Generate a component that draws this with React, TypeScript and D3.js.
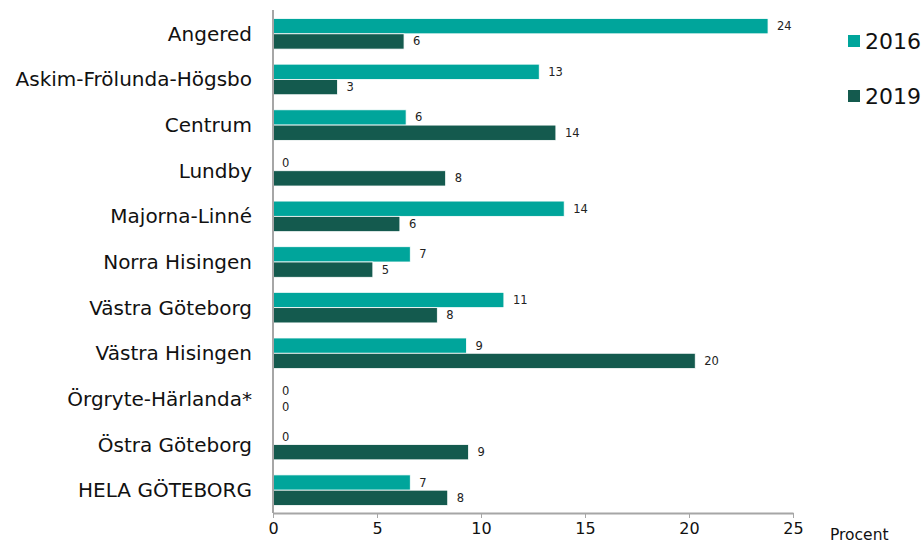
import { useEffect, useRef } from "react"
import * as d3 from "d3"

const categories = [
  "Angered",
  "Askim-Frölunda-Högsbo",
  "Centrum",
  "Lundby",
  "Majorna-Linné",
  "Norra Hisingen",
  "Västra Göteborg",
  "Västra Hisingen",
  "Örgryte-Härlanda*",
  "Östra Göteborg",
  "HELA GÖTEBORG",
]
const values2016 = [23.8, 12.8, 6.4, 0, 14.0, 6.6, 11.1, 9.3, 0, 0, 6.6]
const values2019 = [6.3, 3.1, 13.6, 8.3, 6.1, 4.8, 7.9, 20.3, 0, 9.4, 8.4]
const seriesNames = ["2016", "2019"]
const colors = ["#00a59b", "#145a4e"]
const xTicks = [0, 5, 10, 15, 20, 25]

const App = () => {
  const ref = useRef<SVGSVGElement>(null)

  useEffect(() => {
    const svg = d3.select(ref.current)
    svg.selectAll("*").remove()

    const margin = { top: 11, left: 273 }
    const font = "'DejaVu Sans', Verdana, sans-serif"

    const x = d3.scaleLinear().domain([0, 25]).range([margin.left, 793])
    const y = d3
      .scaleBand()
      .domain(categories)
      .range([margin.top, 513])
      .paddingInner(0.33)
      .paddingOuter(0.165)
    const inner = d3.scaleBand().domain(seriesNames).range([0, y.bandwidth()])

    const data = categories.map((c, i) => ({
      cat: c,
      vals: [values2016[i], values2019[i]],
    }))

    const g = svg.append("g")
    data.forEach((d) => {
      d.vals.forEach((v, si) => {
        const yy = (y(d.cat) as number) + (inner(seriesNames[si]) as number)
        if (v > 0) {
          g.append("rect")
            .attr("x", x(0))
            .attr("y", yy)
            .attr("width", x(v) - x(0))
            .attr("height", inner.bandwidth())
            .attr("fill", colors[si])
            .attr("stroke", "#ffffff")
            .attr("stroke-width", 0.8)
        }
        g.append("text")
          .attr("x", x(v) + 9)
          .attr("y", yy + inner.bandwidth() / 2)
          .attr("dy", "0.35em")
          .attr("font-family", font)
          .attr("font-size", 11.5)
          .attr("fill", "#222")
          .text(Math.round(v))
      })
    })

    // category labels
    svg
      .append("g")
      .selectAll("text")
      .data(categories)
      .enter()
      .append("text")
      .attr("x", 252)
      .attr("y", (d) => (y(d) as number) + y.bandwidth() / 2)
      .attr("dy", "0.35em")
      .attr("text-anchor", "end")
      .attr("font-family", font)
      .attr("font-size", 20)
      .attr("fill", "#111")
      .text((d) => d)

    // y axis line
    svg
      .append("line")
      .attr("x1", x(0))
      .attr("x2", x(0))
      .attr("y1", 10)
      .attr("y2", 513)
      .attr("stroke", "#a6a6a6")
      .attr("stroke-width", 2)

    // x axis
    const xAxis = svg
      .append("g")
      .attr("transform", "translate(0,513)")
      .call(d3.axisBottom(x).tickValues(xTicks).tickSize(5).tickSizeOuter(0).tickPadding(5))
    xAxis.select(".domain").attr("stroke", "#a6a6a6").attr("stroke-width", 2)
    xAxis.selectAll(".tick line").attr("stroke", "#a6a6a6")
    xAxis
      .selectAll(".tick text")
      .attr("font-family", font)
      .attr("font-size", 16)
      .attr("fill", "#111")

    svg
      .append("text")
      .attr("x", 830)
      .attr("y", 540)
      .attr("font-family", font)
      .attr("font-size", 15.5)
      .attr("fill", "#111")
      .text("Procent")

    // legend
    seriesNames.forEach((s, i) => {
      const ly = 41 + i * 55
      svg
        .append("rect")
        .attr("x", 848)
        .attr("y", ly - 6)
        .attr("width", 12)
        .attr("height", 12)
        .attr("fill", colors[i])
      svg
        .append("text")
        .attr("x", 865)
        .attr("y", ly)
        .attr("dy", "0.35em")
        .attr("font-family", font)
        .attr("font-size", 22)
        .attr("fill", "#111")
        .text(s)
    })
  }, [])

  return (
    <div style={{ position: "absolute", left: 0, top: 0 }}>
      <svg ref={ref} width={923} height={545}></svg>
    </div>
  )
}

export default App
